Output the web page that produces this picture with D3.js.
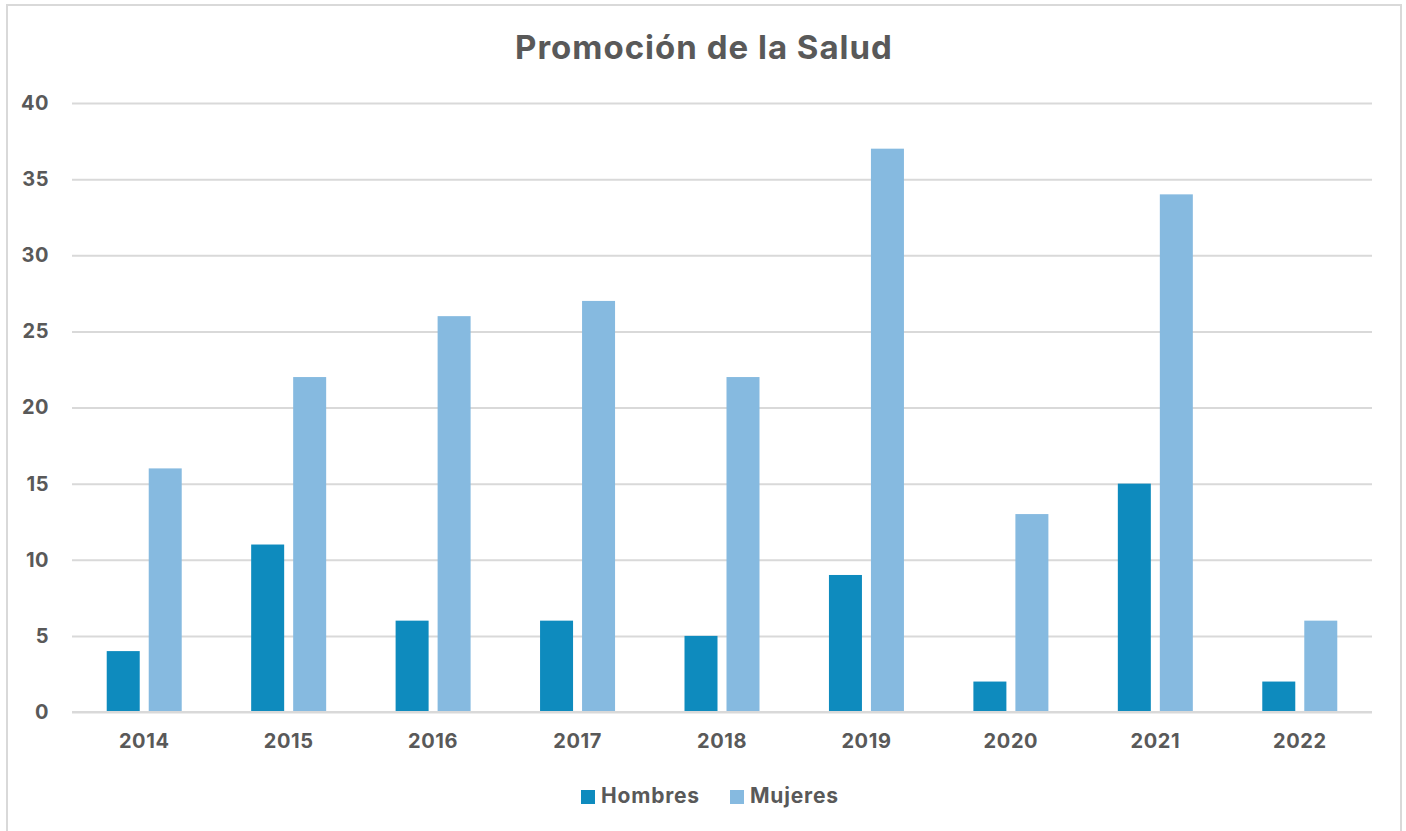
<!DOCTYPE html>
<html>
<head>
<meta charset="utf-8">
<script src="https://cdn.jsdelivr.net/npm/d3@7"></script>
<style>
  html, body { margin: 0; padding: 0; background: #fff; }
  svg { display: block; font-family: Inter, "Liberation Sans", Arial, sans-serif; }
</style>
</head>
<body>
<div id="chart"></div>
<script>
const years = ["2014", "2015", "2016", "2017", "2018", "2019", "2020", "2021", "2022"];
const hombres = [4, 11, 6, 6, 5, 9, 2, 15, 2];
const mujeres = [16, 22, 26, 27, 22, 37, 13, 34, 6];
const seriesNames = ["Hombres", "Mujeres"];
const yTicks = [0, 5, 10, 15, 20, 25, 30, 35, 40];

const W = 1406, H = 831;
const margin = { top: 103, right: 34, bottom: 119, left: 72 };
const innerW = W - margin.left - margin.right;
const innerH = H - margin.top - margin.bottom;
const colors = ["#0e8bbe", "#86bae0"];
const textColor = "#595959";
const font = "Inter, 'Liberation Sans', Arial, sans-serif";

const svg = d3.select("#chart").append("svg").attr("width", W).attr("height", H);

// chart frame
svg.append("rect")
  .attr("x", 7).attr("y", 5).attr("width", 1394).attr("height", 840)
  .attr("fill", "#fff").attr("stroke", "#d9d9d9").attr("stroke-width", 2);

svg.append("text")
  .attr("x", 704).attr("y", 59)
  .attr("text-anchor", "middle")
  .attr("fill", textColor)
  .style("font-size", "33px").style("font-weight", "bold")
  .style("letter-spacing", "1px")
  .text("Promoción de la Salud");

const g = svg.append("g").attr("transform", `translate(${margin.left},${margin.top})`);

const x = d3.scaleBand().domain(years).range([0, innerW]);
const y = d3.scaleLinear().domain([0, 40]).range([innerH, 0]);

// gridlines
g.append("g")
  .call(d3.axisLeft(y).tickValues(yTicks).tickSize(-innerW).tickFormat(""))
  .call(a => a.select(".domain").remove())
  .call(a => a.selectAll("line").attr("stroke", "#d9d9d9").attr("stroke-width", 2));

g.append("g")
  .call(d3.axisLeft(y).tickValues(yTicks).tickSize(0).tickPadding(23))
  .call(a => a.select(".domain").remove())
  .call(a => a.selectAll("text")
    .attr("fill", textColor)
    .style("font-size", "20px").style("font-weight", "bold")
    .style("letter-spacing", "0.5px")
    .style("font-family", font));

const barW = 33, barGap = 9;
const rows = years.map((yr, i) => ({ year: yr, values: [hombres[i], mujeres[i]] }));

const groups = g.selectAll(".yr").data(rows).join("g")
  .attr("class", "yr")
  .attr("transform", d => `translate(${x(d.year) + x.bandwidth() / 2 - barW - barGap / 2},0)`);

groups.selectAll("rect")
  .data(d => d.values.map((v, k) => ({ v, k })))
  .join("rect")
  .attr("x", d => d.k * (barW + barGap))
  .attr("y", d => y(d.v))
  .attr("width", barW)
  .attr("height", d => innerH - y(d.v))
  .attr("fill", d => colors[d.k]);

// baseline
g.append("line")
  .attr("x1", 0).attr("x2", innerW)
  .attr("y1", innerH).attr("y2", innerH)
  .attr("stroke", "#d9d9d9").attr("stroke-width", 2);

g.append("g")
  .attr("transform", `translate(0,${innerH})`)
  .call(d3.axisBottom(x).tickSize(0).tickPadding(22))
  .call(a => a.select(".domain").remove())
  .call(a => a.selectAll("text")
    .attr("fill", textColor)
    .style("font-size", "20px").style("font-weight", "bold")
    .style("letter-spacing", "0.6px")
    .style("font-family", font));

// legend
const legendItems = [{ name: "Hombres", x: 581 }, { name: "Mujeres", x: 730 }];
const lg = svg.append("g");
legendItems.forEach((it, k) => {
  lg.append("rect").attr("x", it.x).attr("y", 790).attr("width", 14).attr("height", 14).attr("fill", colors[k]);
  lg.append("text").attr("x", it.x + 20).attr("y", 803)
    .attr("fill", textColor)
    .style("font-size", "21px").style("font-weight", "bold")
    .style("letter-spacing", "0.8px")
    .text(it.name);
});
</script>
</body>
</html>
